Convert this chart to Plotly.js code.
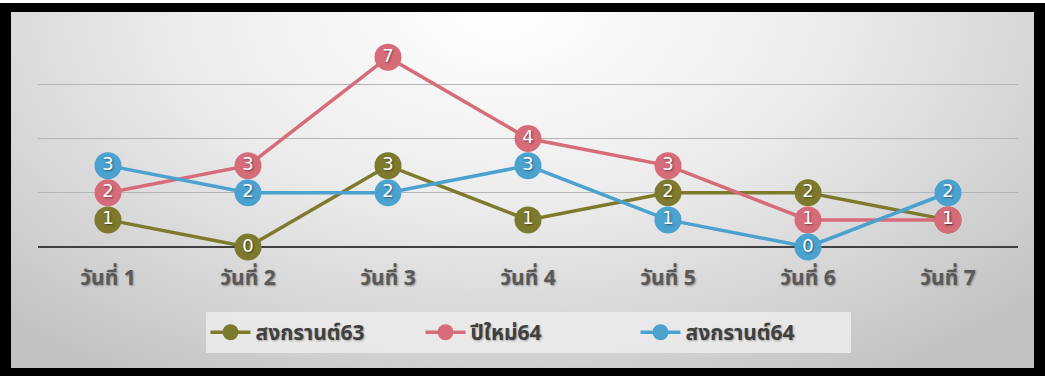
<!DOCTYPE html>
<html>
<head>
<meta charset="utf-8">
<script src="https://cdn.plot.ly/plotly-3.0.1.min.js"></script>
<style>
  html, body { margin: 0; padding: 0; background: #ffffff; width: 1045px; height: 378px; overflow: hidden; }
  #frame {
    position: absolute; left: 0; top: 3px; width: 1045px; height: 373px;
    box-sizing: border-box; border: 11px solid #000; border-top-width: 9px; border-bottom-width: 8px;
    background: radial-gradient(ellipse 70% 120% at 48% 0%, #ffffff 0%, #ececec 45%, #d2d2d2 80%, #c2c2c2 100%);
  }
  #chart { position: absolute; left: 0; top: 0; width: 1045px; height: 378px; }
</style>
</head>
<body>
<div id="frame"></div>
<div id="chart"></div>
<script>
const categories = ["วันที่ 1", "วันที่ 2", "วันที่ 3", "วันที่ 4", "วันที่ 5", "วันที่ 6", "วันที่ 7"];
const seriesNames = ["สงกรานต์63", "ปีใหม่64", "สงกรานต์64"];
const songkran63 = [1, 0, 3, 1, 2, 2, 1];
const newYear64 = [2, 3, 7, 4, 3, 1, 1];
const songkran64 = [3, 2, 2, 3, 1, 0, 2];
const seriesValues = [songkran63, newYear64, songkran64];
const colors = ["#7d7a2d", "#d66c7a", "#4ba2cf"];

const fontFam = '"Noto Sans Thai", Tahoma, "Noto Sans", "DejaVu Sans", sans-serif';
const traces = [];
seriesValues.forEach((vals, i) => {
  traces.push({
    type: 'scatter', mode: 'lines+markers', name: seriesNames[i],
    x: categories, y: vals,
    line: { color: colors[i], width: 3.5 },
    marker: { color: colors[i], size: 27, line: { width: 0 } },
    cliponaxis: false, hoverinfo: 'skip'
  });
});
seriesValues.forEach((vals, i) => {
  traces.push({
    type: 'scatter', mode: 'text', showlegend: false,
    x: categories, y: vals, text: vals.map(String),
    textposition: 'middle center',
    textfont: { color: '#ffffff', size: 18, family: 'Verdana, "DejaVu Sans", sans-serif', shadow: '1px 1px 2px rgba(0,0,0,0.45)' },
    cliponaxis: false, hoverinfo: 'skip'
  });
});

const layout = {
  width: 1045, height: 378,
  margin: { l: 38, r: 27, t: 30, b: 131 },
  paper_bgcolor: 'rgba(0,0,0,0)', plot_bgcolor: 'rgba(0,0,0,0)',
  showlegend: true,
  xaxis: {
    type: 'category', range: [-0.5, 6.5], showgrid: false, zeroline: false, showline: false,
    ticks: 'outside', ticklen: 12, tickcolor: 'rgba(0,0,0,0)',
    tickfont: { family: fontFam, size: 21, color: '#595959', weight: 'bold', shadow: '1px 1px 2px rgba(0,0,0,0.35)' },
    fixedrange: true
  },
  yaxis: {
    range: [0, 8], dtick: 2, showticklabels: false, ticks: '',
    showgrid: true, gridcolor: '#b4b4b4', gridwidth: 1,
    zeroline: true, zerolinecolor: '#404040', zerolinewidth: 2,
    fixedrange: true
  },
  legend: {
    orientation: 'h', x: 0.5, xanchor: 'center', y: -0.30, yanchor: 'top',
    bgcolor: 'rgba(236,236,236,0.85)', borderwidth: 0,
    font: { family: fontFam, size: 21, color: '#404040', weight: 'bold', shadow: '1px 1px 2px rgba(0,0,0,0.3)' },
    itemwidth: 40, traceorder: 'normal', entrywidth: 160, entrywidthmode: 'pixels'
  }
};

Plotly.newPlot('chart', traces, layout, { displayModeBar: false, staticPlot: true });
</script>
</body>
</html>
